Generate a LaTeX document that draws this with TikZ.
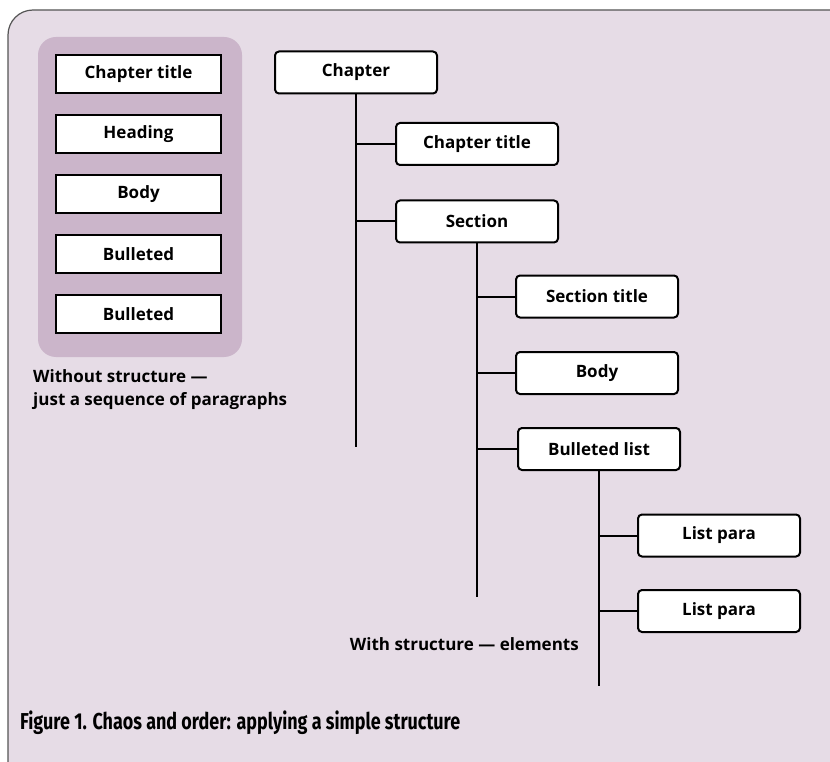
\documentclass[tikz,border=0pt]{standalone}
\usepackage{fontspec}
\setmainfont{Open Sans}
\newfontfamily\capfont[FakeStretch=0.78]{Fira Sans}
\definecolor{pagebg}{HTML}{E6DCE6}
\definecolor{panelbg}{HTML}{CBB5CA}
\definecolor{framecol}{HTML}{555555}
\tikzset{
  flatbox/.style={draw=black, fill=white, line width=2pt, minimum width=165pt,
    minimum height=38pt, inner sep=0pt, font=\fontsize{17}{19}\selectfont\bfseries},
  treebox/.style={draw=black, fill=white, line width=2pt, rounded corners=4pt,
    minimum width=162pt, minimum height=42pt, inner sep=0pt,
    font=\fontsize{17}{19}\selectfont\bfseries},
  link/.style={draw=black, line width=2pt},
  note/.style={font=\fontsize{17}{23}\selectfont\bfseries, inner sep=0pt}
}
\begin{document}
\begin{tikzpicture}[x=1pt, y=-1pt]
  \useasboundingbox (0,0) rectangle (830,762);
  % outer frame
  \draw[framecol, fill=pagebg, line width=1.2pt, rounded corners=25pt] (8,10) rectangle (860,790);
  % panel behind the flat list
  \fill[panelbg, rounded corners=18pt] (38,37) rectangle (242,357);

  % flat sequence of paragraphs
  \node[flatbox] (f1) at (138.5,74) {Chapter title};
  \node[flatbox] (f2) at (138.5,134.5) {Heading};
  \node[flatbox] (f3) at (138.5,194) {Body};
  \node[flatbox] (f4) at (138.5,254) {Bulleted};
  \node[flatbox] (f5) at (138.5,314) {Bulleted};
  \node[note, anchor=north west, align=left] (lnote) at (33,369)
    {Without structure —\\just a sequence of paragraphs};

  % structured tree
  \node[treebox] (chap) at (356,72.5) {Chapter};
  \node[treebox] (ctitle) at (477,144) {Chapter title};
  \node[treebox] (sec) at (477,221.5) {Section};
  \node[treebox] (stitle) at (597,296.5) {Section title};
  \node[treebox] (body) at (597,373) {Body};
  \node[treebox] (blist) at (599,449) {Bulleted list};
  \node[treebox] (lp1) at (719,535.5) {List para};
  \node[treebox] (lp2) at (719,611) {List para};

  \coordinate (chend) at (356,447);
  \coordinate (secend) at (477,597);
  \coordinate (blend) at (599,686);

  \draw[link] (chap.south) -- (chend);
  \draw[link] (chap.south |- ctitle.west) -- (ctitle.west);
  \draw[link] (chap.south |- sec.west) -- (sec.west);

  \draw[link] (sec.south) -- (secend);
  \draw[link] (sec.south |- stitle.west) -- (stitle.west);
  \draw[link] (sec.south |- body.west) -- (body.west);
  \draw[link] (sec.south |- blist.west) -- (blist.west);

  \draw[link] (blist.south) -- (blend);
  \draw[link] (blist.south |- lp1.west) -- (lp1.west);
  \draw[link] (blist.south |- lp2.west) -- (lp2.west);

  \node[note, anchor=east] (rnote) at (579,644) {With structure — elements};

  % caption
  \node[anchor=west, inner sep=0pt, font=\capfont\fontsize{23}{26}\selectfont\bfseries] (cap)
    at (20,723) {Figure 1. Chaos and order: applying a simple structure};
\end{tikzpicture}
\end{document}
